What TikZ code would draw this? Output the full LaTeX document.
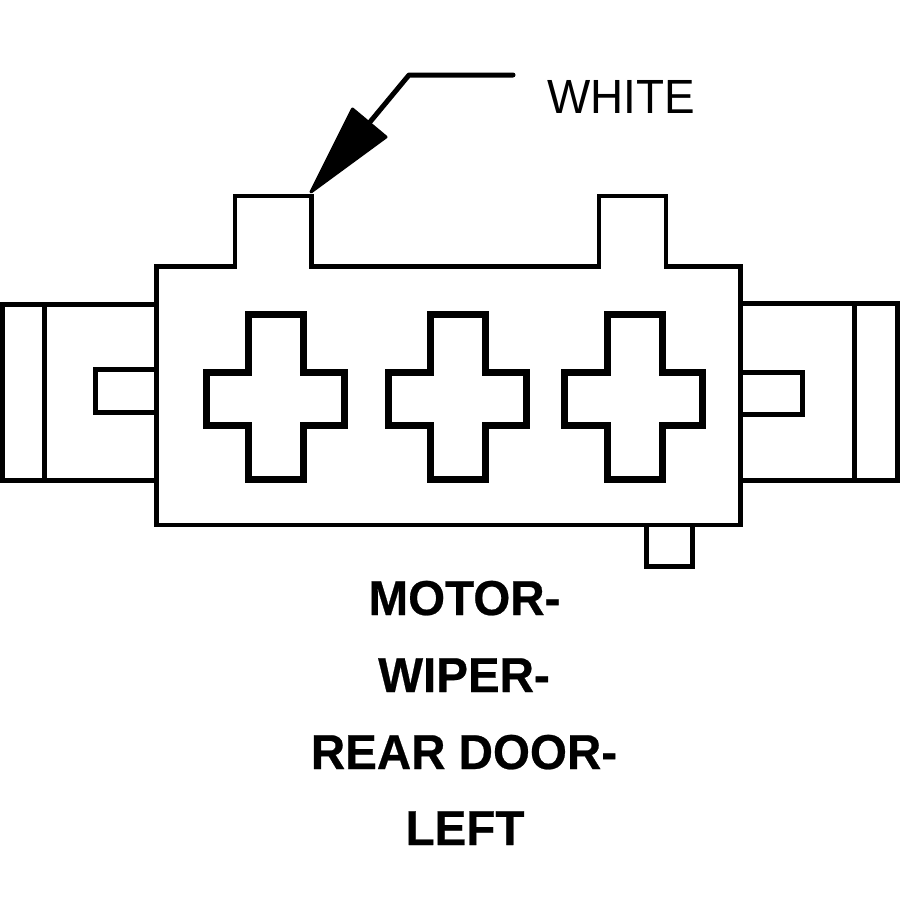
\documentclass[tikz,border=0pt]{standalone}
\usepackage{fontspec}
\setmainfont[BoldFeatures={FakeBold=0.5}]{Liberation Sans}
\tikzset{
 outline/.style={draw=black,line width=4.8pt,line join=miter,line cap=rect},
 thinline/.style={draw=black,line width=5pt,line join=miter,line cap=butt},
 crossline/.style={draw=black,line width=7pt,line join=miter},
 leaderline/.style={draw=black,line width=5pt,line join=round,line cap=round},
 arrowfill/.style={fill=black,draw=black,line width=3pt,line join=round},
 boldlabel/.style={font=\fontsize{49}{52}\selectfont\bfseries,anchor=base,inner sep=0pt},
 colorlabel/.style={font=\fontsize{48}{52}\selectfont,anchor=base,inner sep=0pt},
}
\newcommand{\squeezed}[1]{\scalebox{0.955}[1]{#1}}
\newcommand{\squeezedb}[1]{\scalebox{0.97}[1]{#1}}
% #1 centre of the horizontal arm, #2 centre of the vertical arm
\newcommand{\crossat}[2]{%
 \draw[crossline] (#2-27.5,314.5) -- (#2+27.5,314.5) -- (#2+27.5,372) -- (#1+69,372) -- (#1+69,425.5) -- (#2+27.5,425.5) -- (#2+27.5,479.5) -- (#2-27.5,479.5) -- (#2-27.5,425.5) -- (#1-69,425.5) -- (#1-69,372) -- (#2-27.5,372) -- cycle;}
\begin{document}
\begin{tikzpicture}[x=1pt,y=-1pt]
\useasboundingbox[fill=white] (0,0) rectangle (900,900);
% left latch
\draw[thinline] (157,304) -- (2.5,304) -- (2.5,480.5) -- (157,480.5);
\draw[thinline] (44.5,304) -- (44.5,480.5);
\draw[thinline] (157,369) -- (95,369) -- (95,412) -- (157,412);
% right latch
\draw[thinline] (741,303.5) -- (897,303.5) -- (897,480) -- (741,480);
\draw[thinline] (854.5,303.5) -- (854.5,482);
\draw[thinline] (741,372) -- (802.5,372) -- (802.5,414) -- (741,414);
% tab
\draw[thinline] (646,525) -- (646,566) -- (692,566) -- (692,525);
% body with keys
\draw[outline] (156.5,266.5) -- (235,266.5) -- (235,196) -- (311.5,196) -- (311.5,266.5) -- (599,266.5) -- (599,196) -- (666,196) -- (666,266.5) -- (740.5,266.5) -- (740.5,525) -- (156.5,525) -- cycle;
% crosses
\crossat{275}{276}
\crossat{457}{458}
\crossat{633.5}{635}
% leader with arrow
\coordinate (tip) at (311,192);
\coordinate (elbow) at (409,75);
\coordinate (tail) at (513,75);
\coordinate (neck) at (365,128);
\draw[leaderline] (tail) -- (elbow) -- (neck);
\fill[arrowfill] (tip) -- (352.5,109) -- (386,137) -- cycle;
% labels
\node[colorlabel] (white) at (621,113) {\squeezed{WHITE}};
\node[boldlabel] (l1) at (464.5,615) {\squeezedb{MOTOR-}};
\node[boldlabel] (l2) at (464,692) {\squeezedb{WIPER-}};
\node[boldlabel] (l3) at (464,769) {\squeezedb{REAR DOOR-}};
\node[boldlabel] (l4) at (465,845) {\squeezedb{LEFT}};
\end{tikzpicture}
\end{document}
